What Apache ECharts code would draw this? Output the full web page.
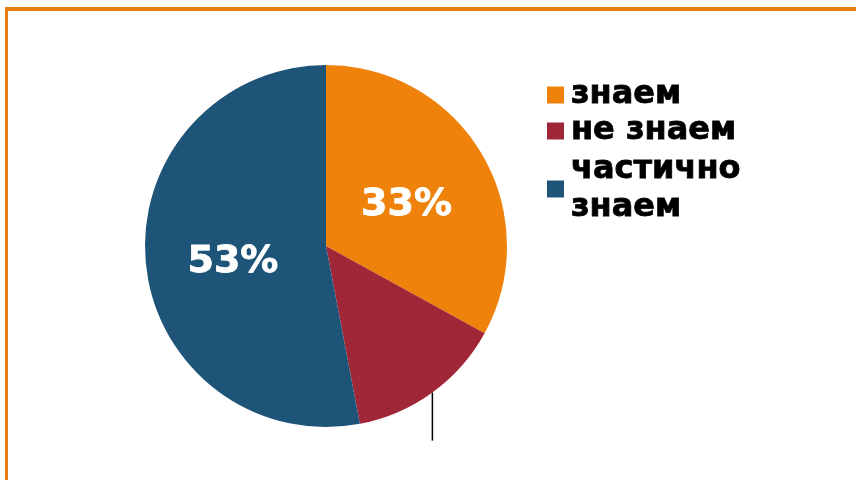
<!DOCTYPE html>
<html>
<head>
<meta charset="utf-8">
<script src="https://cdn.jsdelivr.net/npm/echarts@6/dist/echarts.min.js"></script>
<style>
  html, body { margin: 0; padding: 0; background: #fff; }
  #chart { position: absolute; left: 0; top: 0; width: 856px; height: 480px; }
  /* orange slide frame along the top and left edges */
  #frame {
    position: absolute; left: 5px; top: 7px; width: 851px; height: 473px;
    border-top: 4px solid #E67E14; border-left: 3px solid #E67E14;
    box-sizing: border-box; pointer-events: none;
  }
</style>
</head>
<body>
<div id="chart"></div>
<div id="frame"></div>
<script>
// Survey answers, in percent
const categories = ['знаем', 'не знаем', 'частично\nзнаем'];
const shares = [33, 14, 53];
const colors = ['#EE820B', '#A02737', '#1E5478'];
// slices whose value is printed inside the pie
const insideLabel = [true, false, true];

const chart = echarts.init(document.getElementById('chart'));

const pctFont = {
  formatter: '{d}%',
  color: '#fff',
  fontFamily: 'DejaVu Sans',
  fontWeight: 'bold',
  fontSize: 38,
  textBorderColor: '#fff',
  textBorderWidth: 0.8
};

chart.setOption({
  animation: false,
  legend: {
    orient: 'vertical',
    left: 547,
    top: 76,
    padding: 0,
    itemWidth: 17,
    itemHeight: 17,
    itemGap: -2,
    icon: 'rect',
    selectedMode: false,
    textStyle: {
      fontFamily: 'DejaVu Sans',
      fontWeight: 'bold',
      fontSize: 32,
      lineHeight: 38,
      color: '#000',
      textBorderColor: '#000',
      textBorderWidth: 0.8,
      padding: [0, 0, 0, 2]
    },
    data: categories.map((name, i) => i === 2
      ? { name, textStyle: { padding: [6, 0, 0, 2] } }
      : { name })
  },
  series: [{
    type: 'pie',
    center: [326, 246],
    radius: [0, 181],
    startAngle: 90,
    clockwise: true,
    data: categories.map((name, i) => ({
      name,
      value: shares[i],
      itemStyle: { color: colors[i] },
      label: { show: insideLabel[i] }
    })),
    label: Object.assign({ position: 'inside', offset: [0, 7] }, pctFont),
    labelLine: { show: false }
  }, {
    // the small slice gets an outside label (white on white) with a black leader
    type: 'pie',
    center: [326, 246],
    radius: [0, 181],
    startAngle: 90,
    clockwise: true,
    silent: true,
    data: categories.map((name, i) => ({
      name,
      value: shares[i],
      itemStyle: { color: 'transparent' },
      label: { show: !insideLabel[i] },
      labelLine: { show: !insideLabel[i] }
    })),
    label: Object.assign({ position: 'outside' }, pctFont),
    labelLine: {
      lineStyle: { color: '#000', width: 1.5 }
    },
    labelLayout: (p) => p.labelLinePoints
      ? { x: p.labelLinePoints[0][0], y: 460, align: 'center', verticalAlign: 'middle' }
      : {}
  }]
});
</script>
</body>
</html>
